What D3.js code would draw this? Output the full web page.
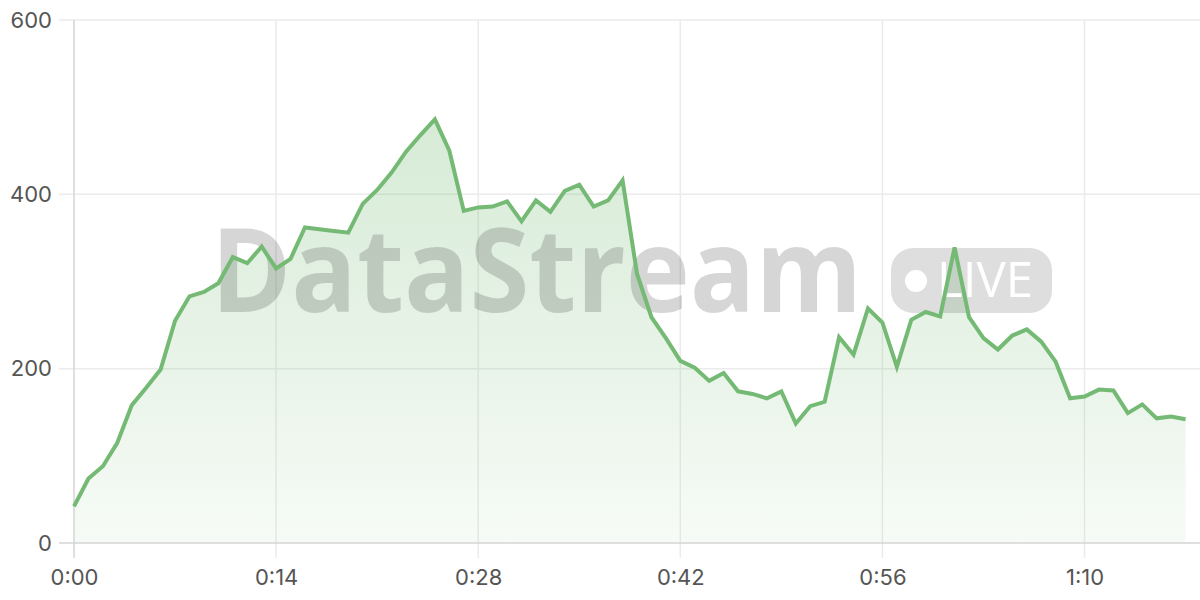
<!DOCTYPE html>
<html>
<head>
<meta charset="utf-8">
<script src="https://cdn.jsdelivr.net/npm/d3@7"></script>
<style>
  html, body { margin: 0; padding: 0; background: #fff; }
  svg { display: block; }
</style>
</head>
<body>
<svg id="chart" width="1200" height="600"></svg>
<script>
// ---- data ----
const seconds = d3.range(0, 78); // 0..77 s
const values = [
  42, 74, 88, 115, 158, 178, 199, 255, 283, 288,
  298, 328, 321, 340, 315, 326, 362, 360, 358, 356,
  389, 405, 425, 449, 468, 486, 450, 381, 385, 386,
  392, 369, 393, 380, 404, 411, 386, 393, 416, 309,
  259, 235, 209, 201, 186, 195, 174, 171, 166, 174,
  137, 157, 162, 236, 216, 269, 253, 202, 256, 265,
  260, 339, 259, 235, 222, 238, 245, 231, 208, 166,
  168, 176, 175, 149, 159, 143, 145, 142
];
const xTickValues = [0, 14, 28, 42, 56, 70];
const xTickLabels = ["0:00", "0:14", "0:28", "0:42", "0:56", "1:10"];
const yTickValues = [0, 200, 400, 600];
const watermarkText = "DataStream";
const badgeText = "LIVE";

(function () {
// ---- layout ----
const svg = d3.select("#chart");
const mLeft = 74, mRight = 1200, mTop = 20, mBottom = 543;
const tickLen = 15;

const x = d3.scaleLinear().domain([0, 78]).range([mLeft, mRight]);
const y = d3.scaleLinear().domain([0, 600]).range([mBottom, mTop]);

const defs = svg.append("defs");
const grad = defs.append("linearGradient")
  .attr("id", "areaGrad")
  .attr("gradientUnits", "userSpaceOnUse")
  .attr("x1", 0).attr("y1", y(486)).attr("x2", 0).attr("y2", mBottom);
grad.append("stop").attr("offset", "0%").attr("stop-color", "#76bb76").attr("stop-opacity", 0.30);
grad.append("stop").attr("offset", "100%").attr("stop-color", "#76bb76").attr("stop-opacity", 0.06);

// grid
const grid = svg.append("g");
grid.selectAll("line.hg").data(yTickValues.filter(v => v > 0)).join("line")
  .attr("x1", mLeft - tickLen).attr("x2", mRight)
  .attr("y1", d => y(d)).attr("y2", d => y(d))
  .attr("stroke", "#ebebeb").attr("stroke-width", 1.5);
grid.selectAll("line.vg").data(xTickValues.filter(v => v > 0)).join("line")
  .attr("x1", d => x(d)).attr("x2", d => x(d))
  .attr("y1", mTop).attr("y2", mBottom + tickLen)
  .attr("stroke", "#ebebeb").attr("stroke-width", 1.5);

// area
const data = seconds.map((s, i) => ({ s, v: values[i] }));
svg.append("path").datum(data)
  .attr("fill", "url(#areaGrad)")
  .attr("d", d3.area().x(d => x(d.s)).y0(y(0)).y1(d => y(d.v)));

// watermark
const wm = svg.append("g");
wm.append("text")
  .attr("x", 211).attr("y", 312)
  .attr("font-family", "'Open Sans', sans-serif")
  .attr("font-weight", 700)
  .attr("font-size", 116)
  .attr("textLength", 651)
  .attr("lengthAdjust", "spacingAndGlyphs")
  .attr("fill", "rgba(0,0,0,0.16)")
  .text(watermarkText);
wm.append("rect")
  .attr("x", 891).attr("y", 248).attr("width", 161).attr("height", 65)
  .attr("rx", 22)
  .attr("fill", "rgba(0,0,0,0.13)");
wm.append("circle").attr("cx", 916).attr("cy", 281).attr("r", 11).attr("fill", "#fff");
wm.append("text")
  .attr("x", 937).attr("y", 297)
  .attr("font-family", "'Open Sans', sans-serif")
  .attr("font-weight", 500)
  .attr("font-size", 49)
  .attr("textLength", 96)
  .attr("lengthAdjust", "spacingAndGlyphs")
  .attr("fill", "#fff")
  .text(badgeText);

// axes lines
svg.append("line").attr("x1", mLeft).attr("x2", mLeft).attr("y1", mTop).attr("y2", mBottom + tickLen)
  .attr("stroke", "#d4d4d4").attr("stroke-width", 1.5);
svg.append("line").attr("x1", mLeft - tickLen).attr("x2", mRight).attr("y1", mBottom).attr("y2", mBottom)
  .attr("stroke", "#d4d4d4").attr("stroke-width", 1.5);

// line
svg.append("path").datum(data)
  .attr("fill", "none")
  .attr("stroke", "#74ba74")
  .attr("stroke-width", 4)
  .attr("stroke-linejoin", "miter")
  .attr("d", d3.line().x(d => x(d.s)).y(d => y(d.v)));

// tick labels via axes
const yAxis = d3.axisLeft(y).tickValues(yTickValues).tickSize(0).tickPadding(0);
const gy = svg.append("g").attr("transform", "translate(52,0)").call(yAxis);
gy.select(".domain").remove();
gy.selectAll("text")
  .attr("font-family", "Inter, sans-serif").attr("font-size", 22).attr("fill", "#555");

const xAxis = d3.axisBottom(x).tickValues(xTickValues)
  .tickFormat((d, i) => xTickLabels[i]).tickSize(0).tickPadding(0);
const gx = svg.append("g").attr("transform", "translate(0,569)").call(xAxis);
gx.select(".domain").remove();
gx.selectAll("text")
  .attr("font-family", "Inter, sans-serif").attr("font-size", 22).attr("fill", "#555");
})();
</script>
</body>
</html>
